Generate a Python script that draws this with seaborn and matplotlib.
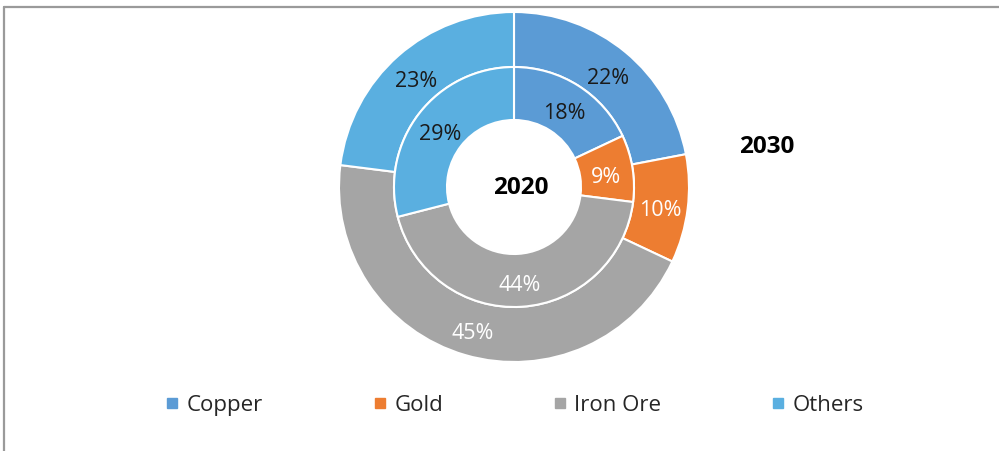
import matplotlib
matplotlib.use("Agg")
import matplotlib.pyplot as plt
from matplotlib.lines import Line2D
import numpy as np
import seaborn as sns

# Share of mining output by commodity
categories = ["Copper", "Gold", "Iron Ore", "Others"]
share_2020 = [18, 9, 44, 29]
share_2030 = [22, 10, 45, 23]
label_colors_2020 = ["#1a1a1a", "white", "white", "#1a1a1a"]
label_colors_2030 = ["#1a1a1a", "white", "white", "#1a1a1a"]

sns.set_theme(style="white")
plt.rcParams["font.family"] = ["Open Sans", "DejaVu Sans"]

palette = sns.color_palette(["#5B9BD5", "#ED7D31", "#A5A5A5", "#5AAFE0"])

W, H = 999, 452
fig = plt.figure(figsize=(W / 100, H / 100), dpi=100)

# Chart frame (top and left edges visible)
fig.add_artist(Line2D([4 / W, 4 / W], [0, 1 - 8 / H], transform=fig.transFigure,
                      color="#9a9a9a", lw=1.6))
fig.add_artist(Line2D([4 / W, 1], [1 - 8 / H, 1 - 8 / H], transform=fig.transFigure,
                      color="#9a9a9a", lw=1.6))

cx, cy, R = 514, 188, 175
half = 182
ax = fig.add_axes([(cx - half) / W, (H - cy - half) / H, 2 * half / W, 2 * half / H])

r_out, r_mid, r_in = 1.0, 120 / R, 67 / R

wedge_kw = dict(edgecolor="white", linewidth=1.5)
ax.pie(share_2030, radius=r_out, colors=palette, startangle=90,
       counterclock=False, wedgeprops=dict(width=r_out - r_mid, **wedge_kw))
ax.pie(share_2020, radius=r_mid, colors=palette, startangle=90,
       counterclock=False, wedgeprops=dict(width=r_mid - r_in, **wedge_kw))

ax.set_xlim(-half / R, half / R)
ax.set_ylim(-half / R, half / R)
ax.set_aspect("equal")
ax.axis("off")

# small downward nudge so the digits sit centred in each band
nudge = 4 / R


def put_labels(values, radius, colors):
    total = sum(values)
    start = 90.0
    for v, c in zip(values, colors):
        mid = np.deg2rad(start - v / total * 360 / 2)
        ax.text(radius * np.cos(mid), radius * np.sin(mid) - nudge, f"{v}%",
                ha="center", va="center", fontsize=15.5, color=c)
        start -= v / total * 360


put_labels(share_2030, (r_out + r_mid) / 2, label_colors_2030)
put_labels(share_2020, (r_mid + r_in) / 2, label_colors_2020)

ax.text(7 / R, 0.0, "2020", ha="center", va="center", fontsize=17.5,
        fontweight="bold", color="black")
fig.text(767 / W, 1 - 147 / H, "2030", ha="center", va="center", fontsize=17.5,
         fontweight="bold", color="black")

handles = [Line2D([], [], marker="s", linestyle="none", markersize=7.5,
                  markerfacecolor=c, markeredgecolor=c) for c in palette]
fig.legend(handles, categories, loc="center", bbox_to_anchor=(514 / W, 1 - 406 / H),
           ncol=4, frameon=False, fontsize=16, handletextpad=0.3,
           columnspacing=4.9, handlelength=0.7)

fig.savefig("out.png", dpi=100, facecolor="white")
